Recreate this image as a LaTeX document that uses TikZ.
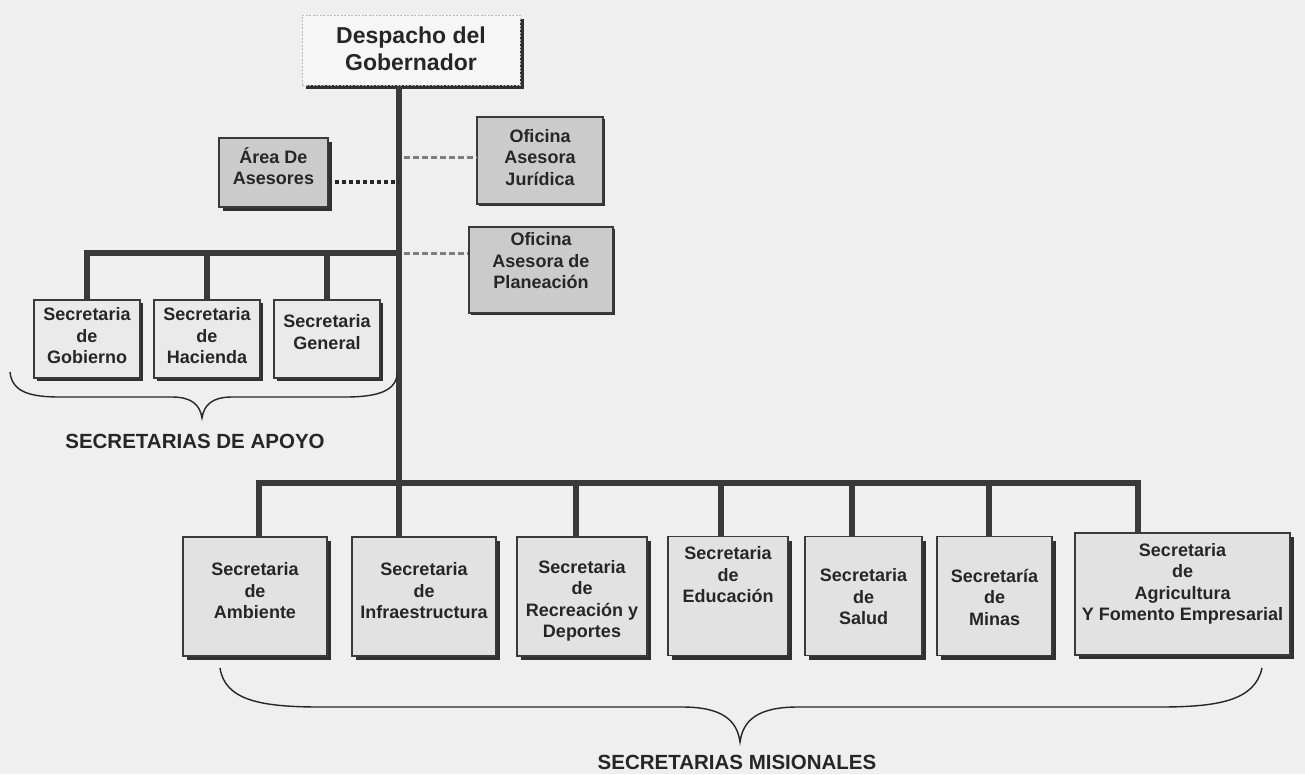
\documentclass[tikz,border=0pt]{standalone}
\usepackage{fontspec}
\setmainfont{Liberation Sans}
\usetikzlibrary{shadows,calc}
\definecolor{bgc}{HTML}{EFEFEF}
\definecolor{linec}{HTML}{3A3A3A}
\definecolor{darkbox}{HTML}{CBCBCB}
\definecolor{misboxc}{HTML}{E2E2E2}
\definecolor{supboxc}{HTML}{EAEAEA}
\definecolor{topboxc}{HTML}{F6F6F6}
\definecolor{textc}{HTML}{262626}
\definecolor{shadowc}{HTML}{303030}
\definecolor{dashc}{HTML}{7E7E7E}
\tikzset{
  shad/.style={general shadow={fill=shadowc, shadow xshift=#1, shadow yshift=-#1}},
  boxbase/.style={rectangle, draw=linec, line width=1.3pt, inner sep=0pt},
  topst/.style={rectangle, inner sep=0pt, fill=topboxc, draw=gray!55, line width=1pt,
     dash pattern=on 2pt off 1.5pt, shad=4pt},
  advst/.style={boxbase, fill=darkbox, shad=#1},
  supst/.style={boxbase, fill=supboxc, shad=3pt, minimum width=106pt, minimum height=78pt},
  misst/.style={boxbase, fill=misboxc, shad=4pt, minimum height=119pt},
  txt/.style={align=center, inner sep=0pt, text=textc, font=\bfseries\fontsize{18pt}{21.5pt}\selectfont},
  bigtxt/.style={align=center, inner sep=0pt, text=textc, font=\bfseries\fontsize{23pt}{27pt}\selectfont},
  captxt/.style={inner sep=0pt, text=textc, font=\bfseries\fontsize{20.5pt}{23pt}\selectfont},
  bar/.style={draw=linec, line width=6pt, line join=miter},
  dotblack/.style={draw=black!85, line width=4pt, dash pattern=on 4pt off 3pt},
  dashgray/.style={draw=dashc, line width=3pt, dash pattern=on 6pt off 3pt},
  bracest/.style={draw=textc, line width=1.4pt}
}
\begin{document}
\begin{tikzpicture}[x=1pt,y=-1pt]
\useasboundingbox (0,0) rectangle (1305,774);
\fill[bgc] (0,0) rectangle (1305,774);

% top box
\node[topst, minimum width=218pt, minimum height=70pt] (desp) at (411,50) {};
\node[bigtxt] (despt) at (411,48.5) {Despacho del\\Gobernador};

% advisors
\node[advst=4pt, minimum width=109pt, minimum height=69pt] (area) at (273.5,172.5) {};
\node[txt] (areat) at (273.5,166) {Área De\\Asesores};
\node[advst=2pt, minimum width=126pt, minimum height=87pt] (jur) at (540,160.5) {};
\node[txt] (jurt) at (540,157.5) {Oficina\\Asesora\\Jurídica};
\node[advst=2pt, minimum width=144pt, minimum height=86pt] (plan) at (541,270) {};
\node[txt] (plant) at (541,261) {Oficina\\Asesora de\\Planeación};

% support secretaries
\node[supst] (gob) at (87,339) {};
\node[txt] (gobt) at (87,336) {Secretaria\\de\\Gobierno};
\node[supst] (hac) at (207,339) {};
\node[txt] (hact) at (207,336) {Secretaria\\de\\Hacienda};
\node[supst] (gen) at (327,339) {};
\node[txt] (gent) at (327,332) {Secretaria\\General};

% mission secretaries
\node[misst, minimum width=144pt] (amb) at (255,596.5) {};
\node[txt] (ambt) at (255,591) {Secretaria\\de\\Ambiente};
\node[misst, minimum width=144pt] (inf) at (424,596.5) {};
\node[txt] (inft) at (424,591) {Secretaria\\de\\Infraestructura};
\node[misst, minimum width=130pt] (rec) at (582,596.5) {};
\node[txt] (rect) at (582,601) {Secretaria\\de\\Recreación y\\Deportes};
\node[misst, minimum width=120pt] (edu) at (728,596) {};
\node[txt] (edut) at (728,575) {Secretaria\\de\\Educación};
\node[misst, minimum width=117pt] (sal) at (863.5,596) {};
\node[txt] (salt) at (863.5,597) {Secretaria\\de\\Salud};
\node[misst, minimum width=115pt] (min) at (994.5,596) {};
\node[txt] (mint) at (994.5,597) {Secretaría\\de\\Minas};
\node[misst, minimum width=215pt, minimum height=122pt] (agr) at (1182.5,594) {};
\node[txt] (agrt) at (1182.5,584) {Secretaria\\de\\Agricultura\\Y Fomento Empresarial};

% trunk and bars
\coordinate (tr) at ([xshift=-12pt]desp.south);
\coordinate (sb) at (399,253);
\coordinate (mb) at (399,483);
\draw[bar] (tr) -- ([xshift=-25pt]inf.north);
\draw[bar] (gob.north) |- (sb);
\draw[bar] (hac.north) -- (hac.north |- sb);
\draw[bar] (gen.north) -- (gen.north |- sb);
\draw[bar] ([xshift=4pt]amb.north) |- (mb) -| ([xshift=-44.5pt]agr.north);
\draw[bar] ([xshift=-6pt]rec.north) -- ([xshift=-6pt]rec.north |- mb);
\draw[bar] ([xshift=-7pt]edu.north) -- ([xshift=-7pt]edu.north |- mb);
\draw[bar] ([xshift=-11.5pt]sal.north) -- ([xshift=-11.5pt]sal.north |- mb);
\draw[bar] ([xshift=-5.5pt]min.north) -- ([xshift=-5.5pt]min.north |- mb);

% advisory dotted links
\draw[dotblack] ([xshift=6pt,yshift=-9.5pt]area.east) -- ([yshift=-9.5pt]area.east -| tr);
\draw[dashgray] ([xshift=5pt,yshift=3.5pt]tr |- jur.west) -- ([yshift=3.5pt]jur.west);
\draw[dashgray] ([xshift=5pt]sb) -- ([yshift=17pt]plan.west);

% braces
\draw[bracest] (10,372) .. controls (12,392) and (30,397) .. (60,397) -- (172,397)
  .. controls (192,397) and (200,405) .. (202,418)
  .. controls (204,405) and (212,397) .. (232,397) -- (345,397)
  .. controls (375,397) and (395,392) .. (397,375);
\node[captxt] (apoyo) at (195,441) {SECRETARIAS DE APOYO};

\draw[bracest] (220,668) .. controls (225,700) and (260,707) .. (320,707) -- (682,707)
  .. controls (722,707) and (737,720) .. (740,742)
  .. controls (743,720) and (758,707) .. (798,707) -- (1160,707)
  .. controls (1220,707) and (1255,700) .. (1262,668);
\node[captxt] (mision) at (737,762) {SECRETARIAS MISIONALES};
\end{tikzpicture}
\end{document}
